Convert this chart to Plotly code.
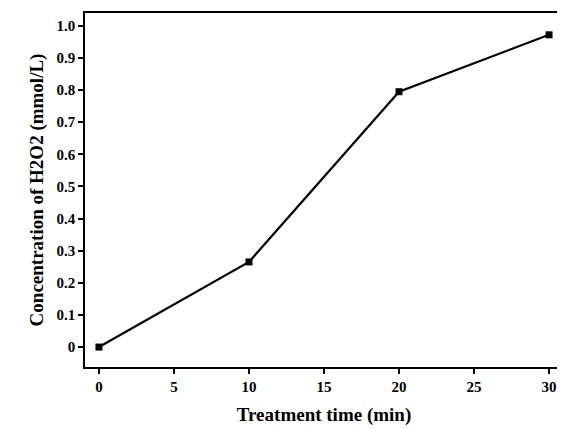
import plotly.graph_objects as go

time_min = [0, 10, 20, 30]
h2o2 = [0.0, 0.265, 0.795, 0.972]
x_ticks = [0, 5, 10, 15, 20, 25, 30]
y_ticks = [0, 0.1, 0.2, 0.3, 0.4, 0.5, 0.6, 0.7, 0.8, 0.9, 1.0]
y_labels = ["0", "0.1", "0.2", "0.3", "0.4", "0.5", "0.6", "0.7", "0.8", "0.9", "1.0"]

font = dict(family="Liberation Serif", color="black")

fig = go.Figure(go.Scatter(
    x=time_min, y=h2o2, mode="lines+markers",
    line=dict(color="black", width=2.2),
    marker=dict(symbol="square", size=7, color="black"),
))
fig.update_layout(
    width=565, height=429,
    plot_bgcolor="white", paper_bgcolor="white",
    margin=dict(l=77, r=10, t=5, b=70, autoexpand=False),
    showlegend=False,
    font=dict(size=15, **font),
    xaxis=dict(
        title=dict(text="<b>Treatment time (min)</b>", font=dict(size=19, **font), standoff=14),
        range=[-0.93, 30.93], tickvals=x_ticks,
        ticktext=[f"<b>{v}</b>" for v in x_ticks],
        ticks="outside", ticklen=5, tickwidth=1.5, tickcolor="black",
        showline=True, linecolor="black", linewidth=1.5, mirror=True,
        showgrid=False, zeroline=False, tickfont=dict(size=15, **font),
        automargin=False,
    ),
    yaxis=dict(
        title=dict(text="<b>Concentration of H2O2 (mmol/L)</b>", font=dict(size=19, **font), standoff=8),
        range=[-0.062, 1.04], tickvals=y_ticks,
        ticktext=[f"<b>{v}</b>" for v in y_labels],
        ticks="outside", ticklen=5, tickwidth=1.5, tickcolor="black",
        showline=True, linecolor="black", linewidth=1.5, mirror=True,
        showgrid=False, zeroline=False, tickfont=dict(size=15, **font),
        automargin=False,
    ),
)
fig.write_html("out.html")
